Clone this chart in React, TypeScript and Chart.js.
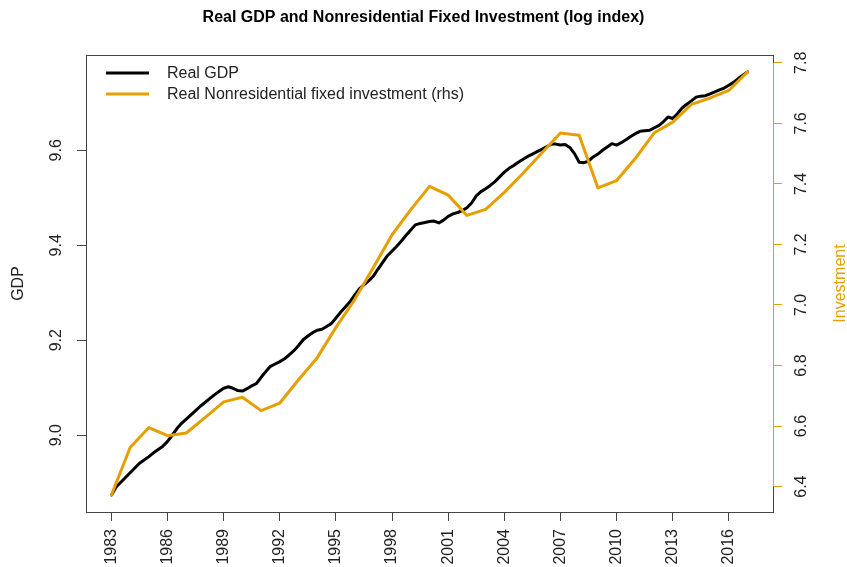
import React, { useEffect, useRef } from 'react';
import { Chart, registerables } from 'chart.js';

Chart.register(...registerables);

const TITLE = 'Real GDP and Nonresidential Fixed Investment (log index)';
const GDP_AXIS_TITLE = 'GDP';
const INV_AXIS_TITLE = 'Investment';
const LEGEND_LABELS = ['Real GDP', 'Real Nonresidential fixed investment (rhs)'];

// Quarterly log real GDP, 1983Q1 .. 2017Q1
const GDP_START_YEAR = 1983;
const GDP_LOG = [
  8.874, 8.891, 8.901, 8.911, 8.921, 8.931, 8.941, 8.948,
  8.955, 8.963, 8.970, 8.977, 8.987, 9.000, 9.014, 9.025,
  9.034, 9.043, 9.052, 9.061, 9.069, 9.077, 9.085, 9.092,
  9.099, 9.102, 9.099, 9.094, 9.093, 9.098, 9.104, 9.109,
  9.122, 9.134, 9.145, 9.150, 9.155, 9.161, 9.169, 9.178,
  9.189, 9.201, 9.209, 9.216, 9.221, 9.223, 9.229, 9.235,
  9.247, 9.259, 9.270, 9.281, 9.295, 9.308, 9.317, 9.325,
  9.335, 9.350, 9.364, 9.378, 9.388, 9.398, 9.409, 9.421,
  9.432, 9.443, 9.446, 9.448, 9.450, 9.451, 9.447, 9.453,
  9.461, 9.466, 9.469, 9.473, 9.479, 9.489, 9.504, 9.513,
  9.519, 9.526, 9.534, 9.544, 9.554, 9.562, 9.568, 9.575,
  9.581, 9.587, 9.592, 9.597, 9.602, 9.607, 9.613, 9.613,
  9.611, 9.612, 9.606, 9.593, 9.575, 9.574, 9.577, 9.586,
  9.592, 9.600, 9.607, 9.614, 9.611, 9.616, 9.622, 9.629,
  9.635, 9.640, 9.641, 9.642, 9.647, 9.652, 9.660, 9.670,
  9.667, 9.677, 9.689, 9.697, 9.704, 9.712, 9.714, 9.715,
  9.719, 9.723, 9.727, 9.731, 9.737, 9.743, 9.751, 9.758,
  9.765,
];

// Annual log real nonresidential fixed investment
const INV_YEARS = [
  1983, 1984, 1985, 1986, 1987, 1988, 1989, 1990, 1991, 1992,
  1993, 1994, 1995, 1996, 1997, 1998, 1999, 2000, 2001, 2002,
  2003, 2004, 2005, 2006, 2007, 2008, 2009, 2010, 2011, 2012,
  2013, 2014, 2015, 2016, 2017,
];
const INV_LOG = [
  6.372, 6.529, 6.595, 6.568, 6.577, 6.628, 6.680, 6.695, 6.651, 6.676,
  6.753, 6.826, 6.926, 7.018, 7.124, 7.232, 7.315, 7.392, 7.363, 7.296,
  7.316, 7.372, 7.435, 7.502, 7.568, 7.561, 7.387, 7.411, 7.484, 7.568,
  7.604, 7.663, 7.684, 7.709, 7.770,
];

const X_TICKS = [1983, 1986, 1989, 1992, 1995, 1998, 2001, 2004, 2007, 2010, 2013, 2016];
const GDP_TICKS = [9.0, 9.2, 9.4, 9.6];
const INV_TICKS = [6.4, 6.6, 6.8, 7.0, 7.2, 7.4, 7.6, 7.8];

const ORANGE = '#E69F00';
const BLACK = '#000000';
const AXIS_GRAY = '#444444';
const TEXT = '#222222';
const FONT = '"Liberation Sans", Arial, Helvetica, sans-serif';

function paddedRange(vals: number[]): [number, number] {
  const lo = Math.min(...vals);
  const hi = Math.max(...vals);
  const d = (hi - lo) * 0.04;
  return [lo - d, hi + d];
}

const framePlugin = {
  id: 'frame',
  afterDatasetsDraw(chart: any) {
    const { ctx, chartArea: a } = chart;
    ctx.save();
    // box
    ctx.strokeStyle = AXIS_GRAY;
    ctx.lineWidth = 1;
    const l = Math.round(a.left) + 0.5;
    const r = Math.round(a.right) + 0.5;
    const t = Math.round(a.top) + 0.5;
    const b = Math.round(a.bottom) + 0.5;
    ctx.strokeRect(l, t, r - l, b - t);
    // orange right axis line
    const ys = chart.scales.yInv;
    const y1 = ys.getPixelForValue(INV_TICKS[0]);
    const y2 = ys.getPixelForValue(INV_TICKS[INV_TICKS.length - 1]);
    ctx.strokeStyle = ORANGE;
    ctx.beginPath();
    ctx.moveTo(r, y1);
    ctx.lineTo(r, y2);
    ctx.stroke();
    // right axis title
    ctx.save();
    ctx.translate(841, (a.top + a.bottom) / 2);
    ctx.rotate(-Math.PI / 2);
    ctx.textAlign = 'center';
    ctx.textBaseline = 'middle';
    ctx.fillStyle = ORANGE;
    ctx.font = `16px ${FONT}`;
    ctx.fillText(INV_AXIS_TITLE, 0, 0);
    ctx.restore();
    // legend
    const colors = [BLACK, ORANGE];
    const ly = [73, 94];
    ctx.font = `16px ${FONT}`;
    ctx.textAlign = 'left';
    ctx.textBaseline = 'middle';
    LEGEND_LABELS.forEach((lab, i) => {
      ctx.strokeStyle = colors[i];
      ctx.lineWidth = 3;
      ctx.beginPath();
      ctx.moveTo(106, ly[i]);
      ctx.lineTo(149, ly[i]);
      ctx.stroke();
      ctx.fillStyle = TEXT;
      ctx.fillText(lab, 167, ly[i] + 1);
    });
    ctx.restore();
  },
};

export default function App() {
  const ref = useRef<HTMLCanvasElement | null>(null);

  useEffect(() => {
    if (!ref.current) return;
    const gdpPts = GDP_LOG.map((v, i) => ({ x: GDP_START_YEAR + i / 4, y: v }));
    const invPts = INV_LOG.map((v, i) => ({ x: INV_YEARS[i], y: v }));
    const [xMin, xMax] = paddedRange([GDP_START_YEAR, INV_YEARS[INV_YEARS.length - 1]]);
    const [gMin, gMax] = paddedRange(GDP_LOG);
    const [iMin, iMax] = paddedRange(INV_LOG);

    const tickFont = { family: FONT, size: 16 };

    const chart = new Chart(ref.current, {
      type: 'line',
      data: {
        datasets: [
          {
            label: LEGEND_LABELS[0],
            data: gdpPts,
            borderColor: BLACK,
            borderWidth: 3,
            pointRadius: 0,
            tension: 0,
            borderJoinStyle: 'round',
            borderCapStyle: 'round',
            yAxisID: 'yGdp',
            order: 2,
          },
          {
            label: LEGEND_LABELS[1],
            data: invPts,
            borderColor: ORANGE,
            borderWidth: 3,
            pointRadius: 0,
            tension: 0,
            borderJoinStyle: 'round',
            borderCapStyle: 'round',
            yAxisID: 'yInv',
            order: 1,
          },
        ],
      },
      options: {
        responsive: false,
        animation: false,
        devicePixelRatio: 1,
        layout: { padding: 0 },
        plugins: {
          legend: { display: false },
          tooltip: { enabled: false },
          title: {
            display: true,
            text: TITLE,
            color: BLACK,
            font: { family: FONT, size: 16, weight: 'bold' },
            padding: { top: 8.4, bottom: 27.4 },
          },
        },
        scales: {
          x: {
            type: 'linear',
            position: 'bottom',
            min: xMin,
            max: xMax,
            afterBuildTicks: (axis: any) => {
              axis.ticks = X_TICKS.map((v) => ({ value: v }));
            },
            afterFit: (axis: any) => {
              axis.height = 55;
            },
            ticks: {
              autoSkip: false,
              minRotation: 90,
              maxRotation: 90,
              padding: 8,
              color: TEXT,
              font: tickFont,
              callback: (v: any) => String(v),
            },
            grid: {
              display: true,
              drawOnChartArea: false,
              drawTicks: true,
              tickLength: 9,
              color: AXIS_GRAY,
            },
            border: { display: false },
          },
          yGdp: {
            type: 'linear',
            position: 'left',
            min: gMin,
            max: gMax,
            afterBuildTicks: (axis: any) => {
              axis.ticks = GDP_TICKS.map((v) => ({ value: v }));
            },
            afterFit: (axis: any) => {
              axis.width = 86;
            },
            ticks: {
              minRotation: 90,
              maxRotation: 90,
              crossAlign: 'center',
              padding: 9,
              color: TEXT,
              font: tickFont,
              callback: (v: any) => Number(v).toFixed(1),
            },
            grid: {
              display: true,
              drawOnChartArea: false,
              drawTicks: true,
              tickLength: 9,
              color: AXIS_GRAY,
            },
            border: { display: false },
            title: {
              display: true,
              text: GDP_AXIS_TITLE,
              color: TEXT,
              font: { family: FONT, size: 16 },
              padding: { top: 9, bottom: 0 },
            },
          },
          yInv: {
            type: 'linear',
            position: 'right',
            min: iMin,
            max: iMax,
            afterBuildTicks: (axis: any) => {
              axis.ticks = INV_TICKS.map((v) => ({ value: v }));
            },
            afterFit: (axis: any) => {
              axis.width = 74;
            },
            ticks: {
              minRotation: 90,
              maxRotation: 90,
              crossAlign: 'center',
              padding: 8,
              color: TEXT,
              font: tickFont,
              callback: (v: any) => Number(v).toFixed(1),
            },
            grid: {
              display: true,
              drawOnChartArea: false,
              drawTicks: true,
              tickLength: 9,
              color: ORANGE,
            },
            border: { display: false },
          },
        },
      },
      plugins: [framePlugin],
    } as any);

    return () => chart.destroy();
  }, []);

  return (
    <div style={{ position: 'fixed', left: 0, top: 0, width: 847, height: 567, background: '#fff' }}>
      <canvas ref={ref} width={847} height={567} style={{ width: 847, height: 567, display: 'block' }} />
    </div>
  );
}
